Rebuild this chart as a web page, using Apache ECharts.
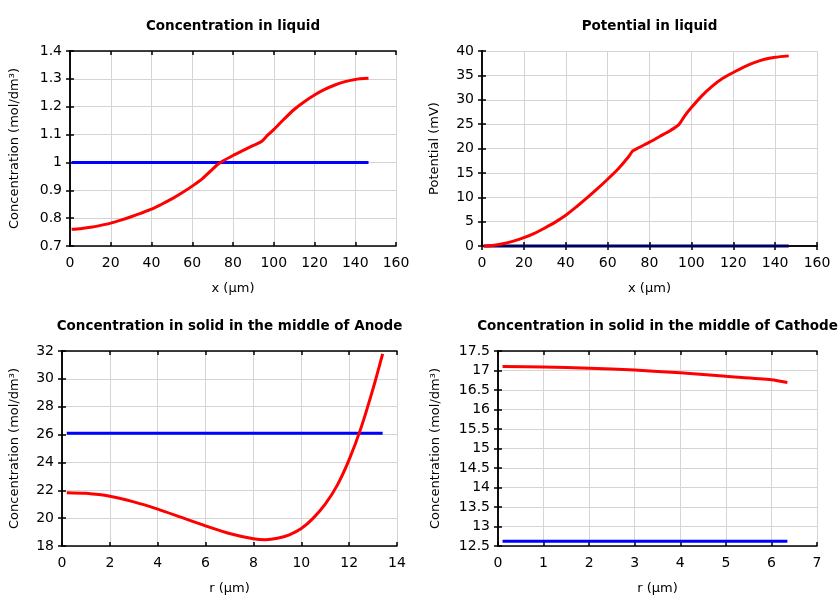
<!DOCTYPE html>
<html><head><meta charset="utf-8">
<script src="https://cdn.jsdelivr.net/npm/echarts@6/dist/echarts.min.js"></script>
<style>html,body{margin:0;padding:0;background:#fff}#c{width:840px;height:600px}</style>
</head><body><div id="c"></div>
<script>
// Panel 1: Concentration in liquid
const liqX = [0.8, 5, 10, 15, 20, 25, 30, 35, 40, 45, 50, 55, 60, 65, 70, 72, 75, 80, 85, 90, 94, 97, 100, 105, 110, 115, 120, 125, 130, 135, 140, 146.5];
const liqConcRed = [0.760, 0.762, 0.767, 0.774, 0.782, 0.793, 0.805, 0.818, 0.832, 0.850, 0.869, 0.891, 0.915, 0.942, 0.976, 0.990, 1.005, 1.025, 1.043, 1.061, 1.075, 1.098, 1.118, 1.155, 1.190, 1.218, 1.242, 1.262, 1.278, 1.290, 1.298, 1.302];
const liqConcBlueX = [0.8, 146.5];
const liqConcBlue = [1.0, 1.0];
// Panel 2: Potential in liquid
const potX = [0.8, 5, 10, 15, 20, 25, 30, 35, 40, 45, 50, 55, 60, 65, 70, 72, 75, 80, 85, 90, 94, 97, 100, 105, 110, 115, 120, 125, 130, 135, 140, 146.5];
const potRed = [0, 0.1, 0.45, 1.0, 1.7, 2.6, 3.7, 4.9, 6.3, 8.0, 9.8, 11.7, 13.7, 15.8, 18.3, 19.5, 20.2, 21.3, 22.5, 23.7, 24.9, 26.8, 28.4, 30.8, 32.8, 34.4, 35.6, 36.7, 37.6, 38.3, 38.7, 39.0];
const potBlueX = [0.8, 146.5];
const potBlue = [0, 0];
// Panel 3: Anode solid
const anodeR = [0.2, 1, 2, 3, 4, 5, 6, 7, 8, 8.5, 9, 9.5, 10, 10.5, 11, 11.5, 12, 12.5, 13, 13.4];
const anodeRed = [21.83, 21.78, 21.57, 21.17, 20.65, 20.05, 19.45, 18.9, 18.52, 18.45, 18.55, 18.8, 19.25, 20.0, 21.0, 22.35, 24.2, 26.5, 29.3, 31.8];
const anodeBlueX = [0.2, 13.4];
const anodeBlue = [26.1, 26.1];
// Panel 4: Cathode solid
const cathR = [0.1, 1, 2, 3, 4, 5, 6, 6.35];
const cathRed = [17.1, 17.09, 17.06, 17.01, 16.94, 16.85, 16.76, 16.69];
const cathBlueX = [0.1, 6.35];
const cathBlue = [12.62, 12.62];

const titles = ['Concentration in liquid', 'Potential in liquid', 'Concentration in solid in the middle of Anode', 'Concentration in solid in the middle of Cathode'];
const xNames = ['x (µm)', 'x (µm)', 'r (µm)', 'r (µm)'];
const yNames = ['Concentration (mol/dm³)', 'Potential (mV)', 'Concentration (mol/dm³)', 'Concentration (mol/dm³)'];

const FONT = 'DejaVu Sans';
const grids = [
  {left: 70, top: 51, width: 326, height: 195},
  {left: 482, top: 51, width: 335, height: 195},
  {left: 62, top: 351, width: 335, height: 195},
  {left: 498, top: 351, width: 319, height: 195}
];
const xRanges = [[0, 160, 20], [0, 160, 20], [0, 14, 2], [0, 7, 1]];
const yRanges = [[0.7, 1.4, 0.1], [0, 40, 5], [18, 32, 2], [12.5, 17.5, 0.5]];
const yGaps = [49, 41, 41, 56];

const xAxes = [], yAxes = [], series = [], titleArr = [];
grids.forEach((g, i) => {
  titleArr.push({text: titles[i], left: g.left + g.width / 2, top: g.top - 32, padding: 0, textAlign: 'center',
    textStyle: {fontFamily: FONT, fontSize: 13.5, fontWeight: 'bold', color: '#000'}});
  const xr = xRanges[i], yr = yRanges[i];
  const fmtY = v => String(Math.round(v * 100) / 100);
  xAxes.push({type: 'value', gridIndex: i, min: xr[0], max: xr[1], interval: xr[2], position: 'bottom',
    name: xNames[i], nameLocation: 'middle', nameGap: 36,
    nameTextStyle: {fontFamily: FONT, fontSize: 13, color: '#000'},
    axisLine: {show: true, lineStyle: {color: '#000', width: 1.5}},
    axisTick: {show: true, inside: true, length: 4, lineStyle: {color: '#000', width: 1.5}},
    axisLabel: {fontFamily: FONT, fontSize: 14, color: '#000', margin: 10},
    splitLine: {show: true, lineStyle: {color: '#d4d4d4', width: 1}}});
  xAxes.push({type: 'value', gridIndex: i, min: xr[0], max: xr[1], interval: xr[2], position: 'top',
    axisLine: {show: true, lineStyle: {color: '#000', width: 1.5}},
    axisTick: {show: true, inside: true, length: 4, lineStyle: {color: '#000', width: 1.5}},
    axisLabel: {show: false}, splitLine: {show: false}});
  yAxes.push({type: 'value', gridIndex: i, min: yr[0], max: yr[1], interval: yr[2], position: 'left',
    name: yNames[i], nameLocation: 'middle', nameGap: yGaps[i], nameRotate: 90,
    nameTextStyle: {fontFamily: FONT, fontSize: 13, color: '#000'},
    axisLine: {show: true, lineStyle: {color: '#000', width: 1.5}},
    axisTick: {show: true, inside: true, length: 4, lineStyle: {color: '#000', width: 1.5}},
    axisLabel: {fontFamily: FONT, fontSize: 14, color: '#000', margin: 8, formatter: fmtY},
    splitLine: {show: true, lineStyle: {color: '#d4d4d4', width: 1}}});
  yAxes.push({type: 'value', gridIndex: i, min: yr[0], max: yr[1], interval: yr[2], position: 'right',
    axisLine: {show: true, lineStyle: {color: '#000', width: 1.5}},
    axisTick: {show: true, inside: true, length: 4, lineStyle: {color: '#000', width: 1.5}},
    axisLabel: {show: false}, splitLine: {show: false}});
});

const zip = (a, b) => a.map((v, k) => [v, b[k]]);
const panels = [
  [liqX, liqConcRed, liqConcBlueX, liqConcBlue, '#0000ff'],
  [potX, potRed, potBlueX, potBlue, '#000060'],
  [anodeR, anodeRed, anodeBlueX, anodeBlue, '#0000ff'],
  [cathR, cathRed, cathBlueX, cathBlue, '#0000ff']
];
panels.forEach((p, i) => {
  series.push({type: 'line', xAxisIndex: 2 * i, yAxisIndex: 2 * i, data: zip(p[2], p[3]),
    showSymbol: false, lineStyle: {color: p[4], width: 3}, itemStyle: {color: p[4]}, clip: false, z: 2});
  series.push({type: 'line', xAxisIndex: 2 * i, yAxisIndex: 2 * i, data: zip(p[0], p[1]),
    showSymbol: false, smooth: 0.25, lineStyle: {color: '#ff0000', width: 3}, itemStyle: {color: '#ff0000'}, clip: false, z: 3});
});

const chart = echarts.init(document.getElementById('c'), null, {renderer: 'canvas'});
chart.setOption({
  animation: false,
  backgroundColor: '#fff',
  title: titleArr,
  grid: grids,
  xAxis: xAxes,
  yAxis: yAxes,
  series: series
});
</script></body></html>
